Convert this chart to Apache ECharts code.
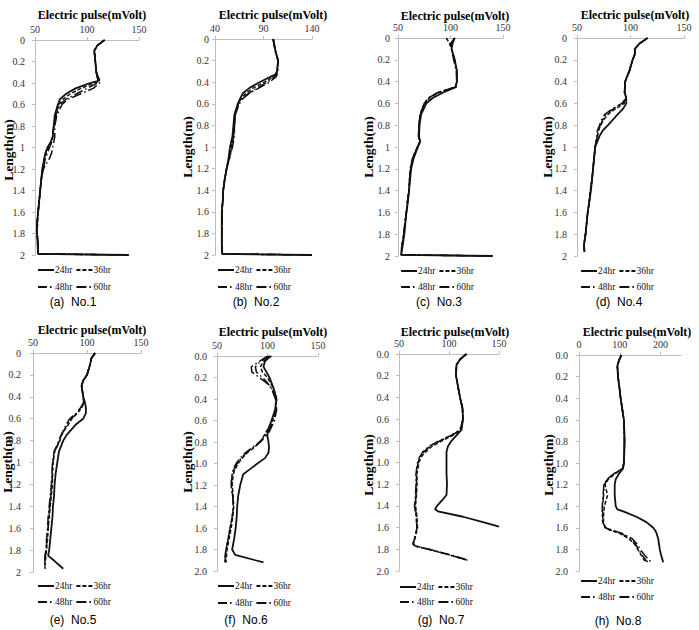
<!DOCTYPE html>
<html><head><meta charset="utf-8">
<script src="https://cdn.jsdelivr.net/npm/echarts@6/dist/echarts.min.js"></script>
<style>html,body{margin:0;padding:0;background:#fff}#c{width:699px;height:630px}</style>
</head><body><div id="c"></div>
<script>
// ---------------- data ----------------
const seriesNames = ['24hr', '36hr', '48hr', '60hr'];
const captions = ['(a)  No.1', '(b)  No.2', '(c)  No.3', '(d)  No.4', '(e)  No.5', '(f)  No.6', '(g)  No.7', '(h)  No.8'];
const xTitle = 'Electric pulse(mVolt)';
const yTitle = 'Length(m)';
const xTicksStd = [50, 100, 150];
const xTicksB = [40, 90, 140];
const xTicksH = [0, 100, 200];

const depthA = [0,0.05,0.1,0.2,0.3,0.35,0.38,0.4,0.45,0.5,0.55,0.6,0.7,0.8,0.9,0.95,1.0,1.05,1.1,1.2,1.3,1.4,1.5,1.6,1.7,1.8,1.9,1.99,2.0];
const a24 = [117,110,107,108,109,110,111,103,89,80,74,72,69,68,67,65,62,60,59,57,56,55,54,53,52,52,52.5,53,140];
const a36 = [117,110,107,108,109,110,112,107,94,84,77,73,70,68,67,66,63,61,59,57,56,55,54,53,52.5,52,53,53,140];
const a48 = [117,110,107,108,109,110,112,110,100,90,80,74,70,68,67,66,64,62,60,58,56,55,54,53,52,52,53,53,140];
const a60 = [117,110,107,108,109,111,113,112,106,94,82,76,71,69,69,68,67,66,64,58,56,55,54,53,52,52,53,53,140];

const depthB = [0,0.1,0.2,0.3,0.33,0.35,0.4,0.45,0.5,0.55,0.6,0.7,0.8,0.9,1.0,1.1,1.2,1.3,1.4,1.5,1.6,1.7,1.8,1.9,1.99,2.0];
const b24 = [100,102,105,104,102,97,86,76,69,66,63.5,60,59,58,55.5,54,52,50,48.5,48,47,47,47,47,47.5,140];
const b36 = [100,102,105,104,103,100,91,80,72,67,64,61,60,59,57,55,52,50,48.5,48,47,47.5,47,47,47.5,140];
const b48 = [100,102,105,104,103,101,94,84,75,68,64,61,60,59,57,55,52,50,48.5,48,47,47.5,47,47,47.5,140];
const b60 = [100,102,105,105,104,103,96,86,76,69,65,61,60,60,58,55,52,50,48.5,48,47,47.5,47,47,47.5,140];

const depthC = [0,0.05,0.1,0.2,0.3,0.4,0.45,0.5,0.55,0.6,0.7,0.8,0.9,0.95,1.0,1.1,1.2,1.3,1.4,1.5,1.6,1.7,1.8,1.9,1.99,2.0];
const c24 = [104,102,101,104,106,106,105,93,83,77,72,70.5,70,71,69,65,62.5,61.5,60.5,59.5,58,57,56,54.5,53,140];
const c36 = [96,99,101,104,106,106,105,89,80,76,71.5,70,69.5,71,68.5,64,62,61,60.5,59,58,56.5,55.5,53.5,53,140];
const c48 = [104,101,101,104,106,106,105,88,79,75,71,70,69.5,71,68.5,64,62,61,60.5,59,58,56.5,55.5,54,53,140];
const c60 = [104,100,101,103,105.5,106,104,88,79,75,71,70,69.5,71,68.5,64,61.5,61,60.5,59,58,56.5,55.5,54,53,140];

const depthD = [0,0.05,0.1,0.15,0.2,0.3,0.4,0.5,0.55,0.6,0.65,0.7,0.75,0.8,0.85,0.9,1.0,1.1,1.2,1.3,1.4,1.5,1.6,1.7,1.8,1.9,1.96];
const d24 = [116,108.5,104,104,102,99,95,94.5,96,96,93,88,83.5,79,74,71,67,66,65,64,63,61.5,60,59,58,56.5,57];
const d36 = [116,108.5,104,104,102,99,95,94.5,96,94,86,79,75,72,70,69,67,66,65,64,62.5,61.5,60,59,58,56.5,57];
const d48 = [116,108.5,104,104,102,99,95,94.5,96,93,84,77,74,72,70,69,67,66,65,64,62.5,61.5,60,59,58,56.5,57];
const d60 = [116,108.5,104,104,102,99,95,94.5,96,92,83,76,73,71,69,68.5,67,66,65,64,62.5,61.5,60,59,58,56.5,57];

const depthE = [0,0.05,0.1,0.2,0.25,0.3,0.4,0.45,0.5,0.55,0.6,0.65,0.7,0.75,0.8,0.9,1.0,1.1,1.2,1.3,1.4,1.5,1.6,1.7,1.8,1.85,1.9,1.97];
const e24 = [107.5,104,103,100,96.5,95,96.5,98,99,99,96.5,90,85.5,81,78,74,72.5,71,70,69.5,68.5,68,67,66,65,64,70,78];
const e36 = [107.5,104,103,100,96.5,95,96.5,97,95,91,86,83,79.5,76.5,75,70,68.5,68,68,67,66,65,64,63.5,62.5,62,61.5,61];
const e48 = [107.5,104,103,100,96.5,95,96.5,97,95,91,85,82,79,76,74.5,70,68.5,68,67.5,66.5,65.5,64.5,64,63,62,61.5,61,61];
const e60 = [107.5,104,103,100,96.5,95,96.5,97,94,90,84,81,78.5,76,74,69.5,68,67.5,67,66,65,64,63.5,62.5,62,61,61,61.5];

const depthF = [0,0.05,0.1,0.15,0.2,0.25,0.3,0.4,0.5,0.6,0.7,0.75,0.8,0.85,0.9,0.95,1.0,1.05,1.1,1.2,1.3,1.4,1.5,1.6,1.7,1.8,1.85,1.9,1.92];
const f24 = [103,97.5,96,99,102,104,106,109,107.5,104,100,100,101,101.5,101,97.5,90,83,76,73,71,70,69.5,68.5,67,65,68,88,96];
const f36 = [104,96,93,95,100,103,106,109,108,105,99,96,93,87,80,75,71,68,66,65,66,66.5,65.5,64,62,60,59.5,59,59];
const f48 = [102,93,88,89,95,100,104,108,108,106,101,97,92,85,78,73,69,66,65,64,65.5,66.5,65,63,61,59,58.5,58,58];
const f60 = [100,92,84,84.5,92,99,104,108,109,107,102,98,93,86,79,74,70,67,65,64,65.5,66,65,63,61,59,58,58,58];

const depthG = [0,0.05,0.1,0.2,0.3,0.4,0.5,0.6,0.7,0.75,0.8,0.85,0.9,0.95,1.0,1.1,1.2,1.3,1.35,1.4,1.43,1.45,1.5,1.55,1.59,1.6,1.7,1.75,1.77,1.8,1.85,1.9];
const g24 = [117.5,111,107.5,107,109,111,113.5,114,112.5,107.5,102.5,99,97.5,97.5,97.5,97.5,98,97.5,93,88,86,89,114,134,150,null,null,null,null,null,null,null];
const g36 = [118,111,107.5,107,109,111,113.5,114,112,104,93,83,77,72,70,68,68,67.5,null,66.5,null,null,68,null,null,68.5,66,64.5,67,80,100,118];
const g48 = [117,111,107.5,107,109,111,113.5,114,111,103,91,81,75,71,69,67.5,67.5,67,null,66,null,null,67.5,null,null,68,65.5,64,66,80,101,119];
const g60 = [117,111,107.5,107,109,111,113.5,114,111,102,90,80,74,70.5,68.5,67,67,66.5,null,65.5,null,null,67,null,null,68,65.5,64,66,79,100,119];

const depthH = [0,0.05,0.1,0.2,0.3,0.4,0.5,0.6,0.7,0.8,0.9,1.0,1.05,1.1,1.15,1.2,1.3,1.4,1.43,1.45,1.5,1.55,1.6,1.62,1.65,1.7,1.75,1.8,1.85,1.9,1.92];
const h24 = [104,98,94,95.5,99,102,106,110,111,111.5,111,110,108,98,90,87.5,87.5,90,94,110,142,166,182,186,190,194,196,198,201,205,206];
const h36 = [104,98,94,95.5,99,102,106,110,111,111.5,111,110,108,88,72,64,70,62,null,null,60,60,64,75,98,122,136,144,152,160,166];
const h48 = [104,98,94,95.5,99,102,106,110,111,111.5,111,110,107,86,70,62,60,58,null,null,58,59,65,78,102,126,138,146,154,164,170];
const h60 = [104,98,94,95.5,99,102,106,110,111,111.5,111,110,107,85,69,61,59,57,null,null,57,58,66,80,105,130,142,150,160,172,178];

// ---------------- layout ----------------
const panels = [
  {depth: depthA, vals: [a24,a36,a48,a60], grid: [35,40,104,215], xr: [50,150], ticks: xTicksStd, fixed: false, ym: 10, title: [92,15], yn: [8,150], cap: [73,302], leg: [37,270,287]},
  {depth: depthB, vals: [b24,b36,b48,b60], grid: [215,39,97,216], xr: [40,140], ticks: xTicksB, fixed: false, ym: 6, title: [273,15], yn: [187,147], cap: [256,302], leg: [217,270,287]},
  {depth: depthC, vals: [c24,c36,c48,c60], grid: [398,38,105,218], xr: [50,150], ticks: xTicksStd, fixed: false, ym: 8, title: [455,16], yn: [368,147], cap: [439,302], leg: [400,271,287]},
  {depth: depthD, vals: [d24,d36,d48,d60], grid: [577,38,107,218], xr: [50,150], ticks: xTicksStd, fixed: false, ym: 10, title: [635,15], yn: [547,147], cap: [619,302], leg: [580,271,287]},
  {depth: depthE, vals: [e24,e36,e48,e60], grid: [33,353,108,219], xr: [50,150], ticks: xTicksStd, fixed: false, ym: 12, title: [92,330], yn: [7,462], cap: [73,620], leg: [37,586,602]},
  {depth: depthF, vals: [f24,f36,f48,f60], grid: [217,356,101,215], xr: [50,150], ticks: xTicksStd, fixed: true, ym: 10, title: [273,332], yn: [187,462], cap: [246,620], leg: [217,586,603]},
  {depth: depthG, vals: [g24,g36,g48,g60], grid: [399,354,100,217], xr: [50,150], ticks: xTicksStd, fixed: true, ym: 10, title: [455,332], yn: [368,465], cap: [441,620], leg: [399,587,602]},
  {depth: depthH, vals: [h24,h36,h48,h60], grid: [579,355,102,216], xr: [0,250], ticks: xTicksH, fixed: true, ym: 11, title: [637,332], yn: [548,465], cap: [618,621], leg: [580,581,597]}
];

const lineStyles = [
  {width: 1.8, type: 'solid'},
  {width: 1.5, type: [4, 2]},
  {width: 1.5, type: [9, 3, 1.5, 3]},
  {width: 1.5, type: [10, 3, 1.5, 3]}
];

const serif = 'Liberation Serif';
const axisColor = '#bdbdbd';
const grids = [], xAxes = [], yAxes = [], series = [], legends = [], graphics = [];

panels.forEach((p, i) => {
  grids.push({left: p.grid[0], top: p.grid[1], width: p.grid[2], height: p.grid[3]});
  xAxes.push({
    type: 'value', gridIndex: i, position: 'top', min: p.xr[0], max: p.xr[1],
    axisLine: {show: true, lineStyle: {color: axisColor, width: 1}},
    axisTick: {show: true, length: 3, lineStyle: {color: axisColor}, customValues: p.ticks},
    axisLabel: {customValues: p.ticks, fontFamily: serif, fontSize: 10, color: '#333', margin: 6},
    splitLine: {show: false}
  });
  yAxes.push({
    type: 'value', gridIndex: i, inverse: true, min: 0, max: 2, interval: 0.2,
    axisLine: {show: true, lineStyle: {color: axisColor, width: 1}},
    axisTick: {show: true, length: 3, lineStyle: {color: axisColor}},
    axisLabel: {
      fontFamily: serif, fontSize: 10, color: '#333', margin: p.ym,
      formatter: v => p.fixed ? v.toFixed(1) : String(+v.toFixed(1))
    },
    splitLine: {show: false}
  });
  p.vals.forEach((arr, k) => {
    const data = [];
    arr.forEach((v, j) => { if (v !== null) data.push([v, p.depth[j]]); });
    series.push({
      type: 'line', name: seriesNames[k], xAxisIndex: i, yAxisIndex: i,
      data: data, symbol: 'none', smooth: false, z: 10 - k, color: '#111',
      itemStyle: {color: '#111'},
      lineStyle: {color: '#111', width: lineStyles[k].width, type: lineStyles[k].type}
    });
  });
  const legBase = {
    left: p.leg[0], orient: 'horizontal', padding: 0, itemWidth: 16, itemHeight: 8, itemGap: 3,
    selectedMode: false, itemStyle: {opacity: 0, borderWidth: 0},
    textStyle: {fontFamily: serif, fontSize: 9.5, color: '#111', padding: [0, 0, 0, -4]}
  };
  legends.push(Object.assign({}, legBase, {top: p.leg[1] - 5, data: seriesNames.slice(0, 2)}));
  legends.push(Object.assign({}, legBase, {top: p.leg[2] - 5, data: seriesNames.slice(2, 4)}));
  graphics.push({type: 'text', x: p.title[0], y: p.title[1], style: {text: xTitle, align: 'center', verticalAlign: 'middle', fontFamily: serif, fontWeight: 'bold', fontSize: 12, fill: '#000'}});
  graphics.push({type: 'text', x: p.yn[0], y: p.yn[1], rotation: Math.PI / 2, style: {text: yTitle, align: 'center', verticalAlign: 'middle', fontFamily: serif, fontWeight: 'bold', fontSize: 13.5, fill: '#000'}});
  graphics.push({type: 'text', x: p.cap[0], y: p.cap[1], style: {text: captions[i], align: 'center', verticalAlign: 'middle', fontFamily: 'Liberation Sans', fontSize: 12, fill: '#000'}});
});

const chart = echarts.init(document.getElementById('c'), null, {renderer: 'svg'});
chart.setOption({
  animation: false,
  backgroundColor: '#fff',
  grid: grids, xAxis: xAxes, yAxis: yAxes, series: series, legend: legends, graphic: graphics
});
</script>
</body></html>
